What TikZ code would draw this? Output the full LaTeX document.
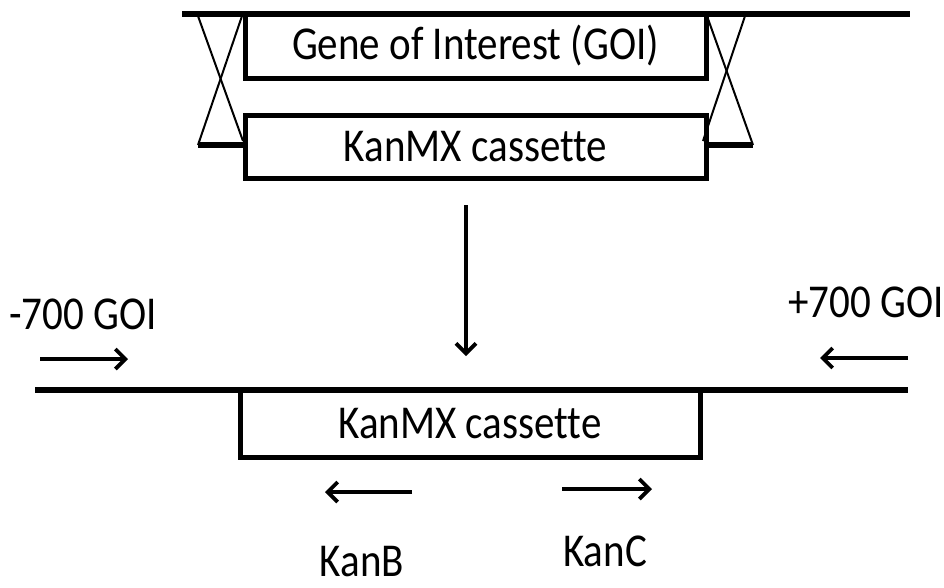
\documentclass[tikz,border=0pt]{standalone}
\usepackage{fontspec}
\setmainfont{Carlito}[Ligatures={NoCommon},RawFeature={-liga;-clig;-calt}]
\usetikzlibrary{arrows.meta}
\newcommand\tallt[1]{\scalebox{1}[1.15]{#1}}
\tikzset{
  dna/.style={line width=6pt},
  gbox/.style={draw, line width=5pt, minimum width=461pt, inner sep=0pt,
    font=\fontsize{41}{48}\selectfont},
  label/.style={inner sep=0pt, font=\fontsize{41}{48}\selectfont},
  xover/.style={line width=2pt},
  primer/.style={line width=3.8pt, -{Straight Barb[length=10pt,width=20pt,line width=3.8pt]}},
}
\begin{document}
\begin{tikzpicture}[x=1pt,y=-1pt]
\useasboundingbox (0,0) rectangle (944,587);
% chromosome before integration
\draw[dna] (182,14) -- (910,14);
\node[gbox, minimum height=64pt] (goi) at (475.5,46) {\tallt{Gene of Interest (GOI)}};
\node[gbox, minimum height=63pt] (kt) at (475.5,146.5) {\tallt{KanMX cassette}};
% flanking ends of the cassette
\coordinate (ls) at (198,145);
\coordinate (rs) at (753,145);
\draw[dna] (ls) -- (kt.west |- ls);
\draw[dna] (kt.east |- rs) -- (rs);
% homologous recombination crossovers
\coordinate (lt1) at (198,16);
\coordinate (lt2) at (242,16);
\coordinate (lb2) at (243,141);
\coordinate (rt1) at (707,16);
\coordinate (rt2) at (745,16);
\coordinate (rb1) at (703,141);
\draw[xover] (lt1) -- (lb2);
\draw[xover] (lt2) -- (ls);
\draw[xover] (rt1) -- (rs);
\draw[xover] (rt2) -- (rb1);
% integration step
\coordinate (a1) at (466,205);
\coordinate (a2) at (466,356);
\draw[primer] (a1) -- (a2);
% chromosome after integration
\draw[dna] (35,390) -- (908,390);
\node[gbox, minimum width=460pt, minimum height=67pt] (kb) at (470,423.5) {\tallt{KanMX cassette}};
% primers
\node[label] (pm) at (83,314) {\tallt{-700 GOI}};
\node[label] (pp) at (866,302) {\tallt{+700 GOI}};
\coordinate (pm1) at (40,359);
\coordinate (pm2) at (128,359);
\draw[primer] (pm1) -- (pm2);
\coordinate (pp1) at (908,358);
\coordinate (pp2) at (820,358);
\draw[primer] (pp1) -- (pp2);
\coordinate (kb1) at (412,492);
\coordinate (kb2) at (325,492);
\draw[primer] (kb1) -- (kb2);
\coordinate (kc1) at (562,489);
\coordinate (kc2) at (652,489);
\draw[primer] (kc1) -- (kc2);
\node[label] (kanb) at (362,562) {\tallt{KanB}};
\node[label] (kanc) at (605,551) {\tallt{KanC}};
\end{tikzpicture}
\end{document}
